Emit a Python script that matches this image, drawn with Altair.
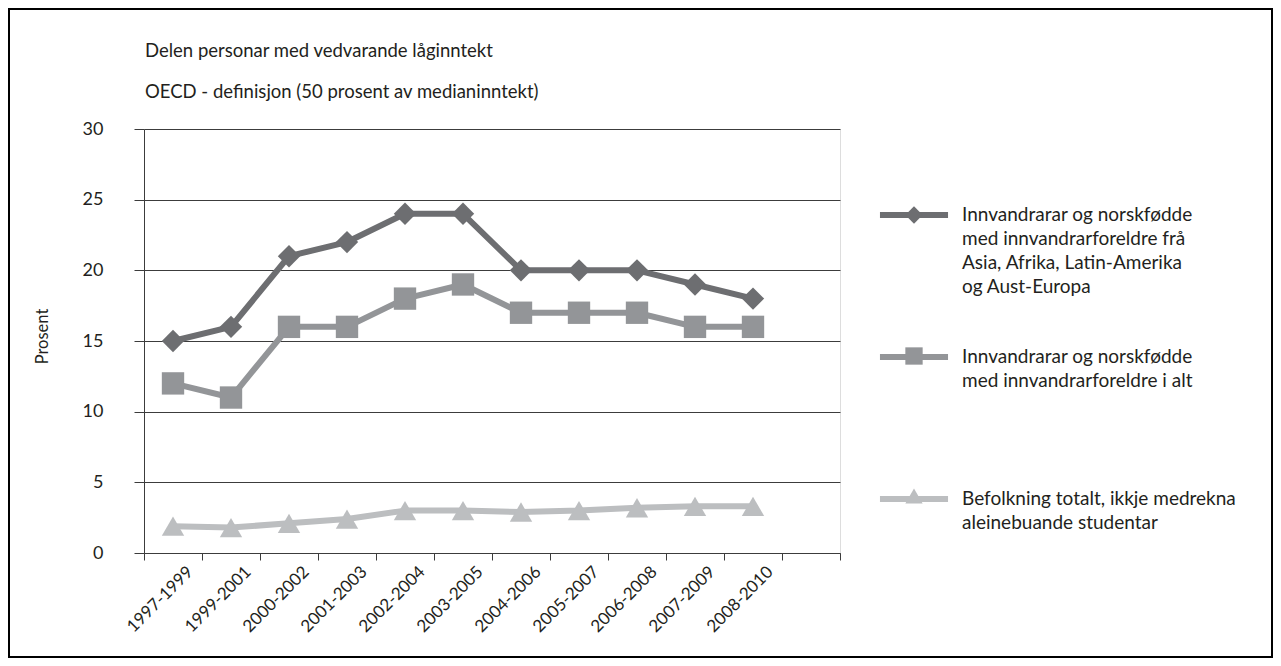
import altair as alt
import pandas as pd

periods = ["1997-1999", "1999-2001", "2000-2002", "2001-2003", "2002-2004",
           "2003-2005", "2004-2006", "2005-2007", "2006-2008", "2007-2009", "2008-2010"]
series_names = [
    "Innvandrarar og norskfødde\nmed innvandrarforeldre frå\nAsia, Afrika, Latin-Amerika\nog Aust-Europa",
    "Innvandrarar og norskfødde\nmed innvandrarforeldre i alt\n\n",
    "Befolkning totalt, ikkje medrekna\naleinebuande studentar",
]
asia_afrika = [15, 16, 21, 22, 24, 24, 20, 20, 20, 19, 18]
innvandrarar_alt = [12, 11, 16, 16, 18, 19, 17, 17, 17, 16, 16]
befolkning = [1.9, 1.8, 2.1, 2.4, 3.0, 3.0, 2.9, 3.0, 3.2, 3.3, 3.3]
colors = ["#6d6e71", "#939598", "#bcbec0"]
shapes = ["diamond", "square", "triangle-up"]
y_ticks = [0, 5, 10, 15, 20, 25, 30]

rows = []
for name, vals in zip(series_names, [asia_afrika, innvandrarar_alt, befolkning]):
    for i, (p, v) in enumerate(zip(periods, vals)):
        rows.append({"period": p, "idx": i, "series": name, "value": v})
df = pd.DataFrame(rows)

FONT = "Lato"
TXT = "#231f20"
GRID = "#3c3c3c"

label_arr = "[" + ",".join("'" + p + "'" for p in periods) + "]"
label_expr = f"datum.value < {len(periods)} ? {label_arr}[datum.value] : ''"

x_enc = alt.X(
    "xpos:Q",
    scale=alt.Scale(domain=[0, len(periods) + 1], nice=False, zero=False),
    axis=alt.Axis(
        values=list(range(len(periods) + 2)), labelExpr=label_expr, labelAngle=-45,
        labelAlign="right", labelBaseline="middle", labelOffset=46, labelPadding=9,
        tickSize=7, grid=False, title=None, domainColor=GRID, tickColor=GRID,
        labelOverlap=False, labelFontSize=17, labelColor=TXT, labelFont=FONT,
        labelBound=False, labelFlush=False,
    ),
)
y_enc = alt.Y(
    "value:Q",
    scale=alt.Scale(domain=[0, 30], nice=False),
    axis=alt.Axis(
        values=y_ticks, grid=True, gridColor=GRID, gridWidth=1, domainColor=GRID,
        tickColor=GRID, tickSize=10, labelPadding=31, labelFontSize=18,
        labelColor=TXT, labelFont=FONT, title="Prosent", titleX=-102, titleY=207,
        titleAngle=-90, titleAlign="center", titleBaseline="middle",
        titleFontWeight="normal", titleFontSize=16.5, titleColor=TXT, titleFont=FONT,
    ),
)

LEG_X, LEG_Y = 758, 74
legend_common = dict(
    title=None, orient="none",
    padding=0, labelFontSize=19, labelFont=FONT, labelColor=TXT,
    labelLimit=500, legendX=LEG_X, legendY=LEG_Y, symbolSize=300,
    symbolStrokeWidth=6, labelOffset=36,
)

line_domain = [s + " " for s in series_names]
base = alt.Chart(df).transform_calculate(
    xpos="datum.idx + 0.5", series_l="datum.series + ' '"
)

lines = base.mark_line(strokeWidth=6, strokeJoin="round").encode(
    x=x_enc, y=y_enc,
    stroke=alt.Stroke(
        "series_l:N",
        scale=alt.Scale(domain=line_domain, range=colors),
        legend=alt.Legend(symbolType="M-3.93,0L3.93,0", symbolFillColor="transparent",
                          rowPadding=48, labelExpr="split(datum.label, '\\n')",
                          **legend_common),
    ),
)

# marker overlay legend: same rows as the line legend, labels blanked
pt_legend = alt.Legend(
    labelOpacity=0, symbolStrokeColor="transparent", rowPadding=38,
    labelExpr="split(replace(datum.label, regexp('[^\\\\n]', 'g'), ' '), '\\n')",
    **legend_common,
)
points = base.mark_point(filled=True, opacity=1, size=500).encode(
    x=x_enc, y=y_enc,
    fill=alt.Fill("series:N", scale=alt.Scale(domain=series_names, range=colors),
                  legend=pt_legend),
    shape=alt.Shape("series:N", scale=alt.Scale(domain=series_names, range=shapes),
                    legend=pt_legend),
)

frame = alt.Chart(pd.DataFrame({"a": [0]})).mark_rect(
    fill="transparent", stroke="#000000", strokeWidth=2
).encode(x=alt.value(-135), x2=alt.value(1128), y=alt.value(-120), y2=alt.value(528))

chart = alt.layer(frame, lines, points).properties(
    width=696, height=424,
    autosize=alt.AutoSizeParams(type="none"),
    padding={"left": 136, "top": 121, "right": 433, "bottom": 105},
    title=alt.TitleParams(
        text=["Delen personar med vedvarande låginntekt",
              "OECD - definisjon (50 prosent av medianinntekt)"],
        anchor="start", frame="group", fontSize=18.5, font=FONT, fontWeight="normal",
        color=TXT, lineHeight=41, offset=30, dy=123, dx=1,
    ),
).configure_view(strokeWidth=0).configure(
    font=FONT, style={"guide-label": {"lineHeight": 24}}
).resolve_scale(x="shared", y="shared")

chart.save("out.html", embed_options={"renderer": "svg", "actions": False})
